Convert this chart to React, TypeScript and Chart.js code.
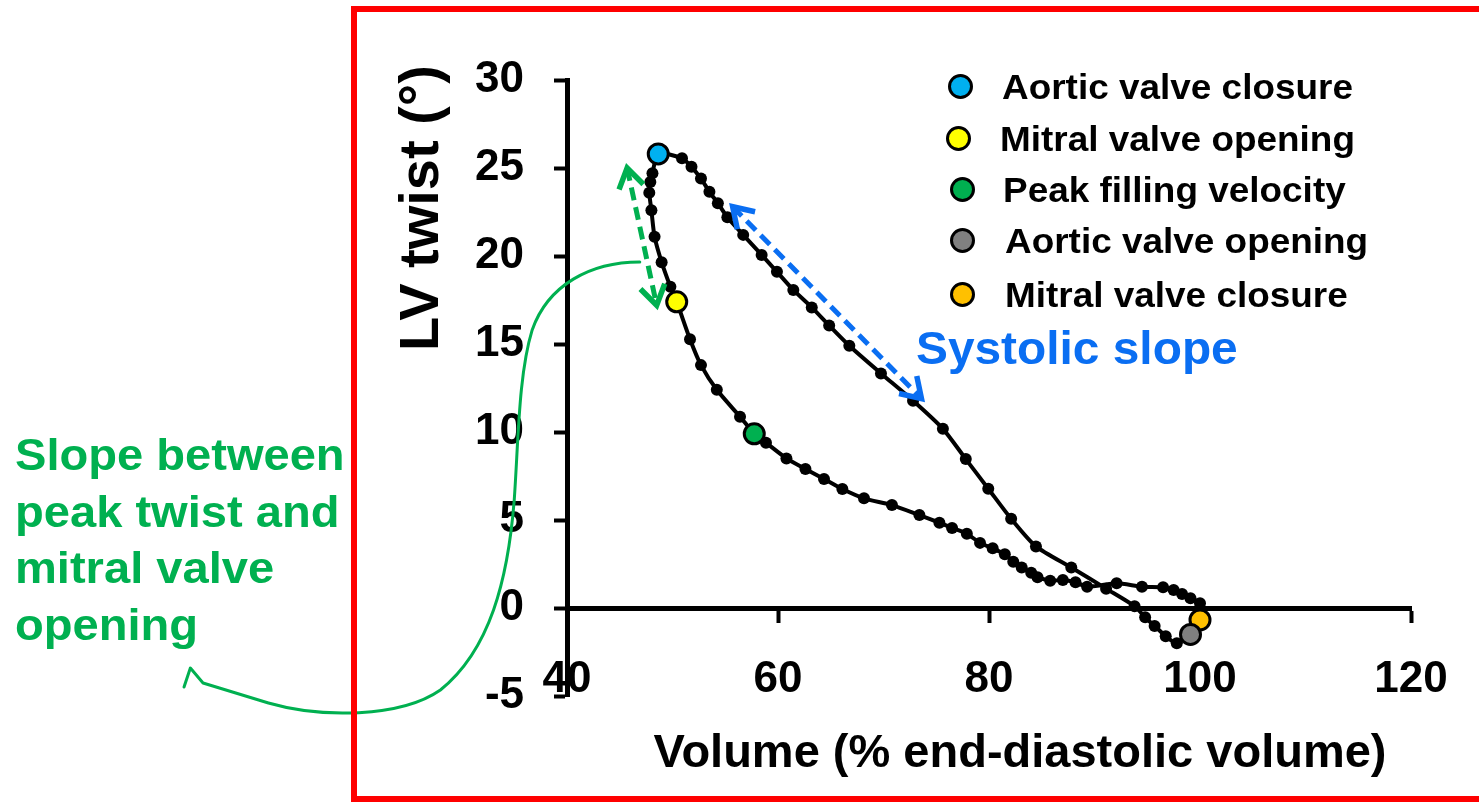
import React, { useEffect, useRef } from "react";
import { Chart, registerables } from "chart.js";

Chart.register(...registerables);

// ---------- data ----------
const loopVolume = [
  99.1, 97.8, 96.75, 95.7, 94.8, 93.8, 91.1, 87.8, 84.45, 82.1, 79.93, 77.8, 75.63, 72.8,
  69.76, 66.76, 64.85, 63.2, 61.45, 59.9, 58.45, 56.7, 55.2, 54.3, 53.5, 52.7, 51.8, 50.9,
  48.65, 48.1, 47.9, 47.8, 48.0, 48.3, 48.97, 49.8, 50.4, 51.66, 52.7, 54.2, 56.4, 57.75,
  58.86, 60.8, 62.6, 64.36, 66.1, 68.15, 70.8, 73.4, 75.3, 76.5, 77.9, 79.15, 80.35, 81.5,
  82.3, 83.1, 84.0, 84.6, 85.8, 87.0, 88.2, 89.3, 92.1, 94.5, 96.5, 97.5, 98.3, 99.1, 100.0,
  100.0,
];
const loopTwist = [
  -1.5, -2.0, -1.6, -1.02, -0.53, 0.1, 1.1, 2.3, 3.5, 5.07, 6.78, 8.46, 10.18, 11.78, 13.33,
  14.9, 16.05, 17.08, 18.07, 19.1, 20.06, 21.2, 22.2, 23.0, 23.65, 24.4, 25.07, 25.55, 25.8,
  24.7, 24.2, 23.6, 22.6, 21.1, 19.65, 18.25, 17.4, 15.27, 13.8, 12.4, 10.87, 9.9, 9.39, 8.5,
  7.9, 7.33, 6.76, 6.23, 5.85, 5.28, 4.85, 4.55, 4.22, 3.7, 3.39, 3.05, 2.63, 2.3, 2.0, 1.75,
  1.55, 1.59, 1.46, 1.21, 1.4, 1.21, 1.18, 1.02, 0.8, 0.55, 0.27, -0.68,
];

const eventNames = [
  "Aortic valve closure",
  "Mitral valve opening",
  "Peak filling velocity",
  "Aortic valve opening",
  "Mitral valve closure",
];
const eventColors = ["#00B0F0", "#FFFF00", "#00B050", "#808080", "#FFC000"];
const eventVolume = [48.65, 50.4, 57.75, 99.1, 100.0];
const eventTwist = [25.8, 17.4, 9.9, -1.5, -0.68];

const xTicks = [40, 60, 80, 100, 120];
const yTicks = [-5, 0, 5, 10, 15, 20, 25, 30];

const xTitle = "Volume (% end-diastolic volume)";
const yTitle = "LV twist (°)";
const systolicLabel = "Systolic slope";
const slopeLabelLines = ["Slope between", "peak twist and", "mitral valve", "opening"];

// annotation anchors (data units)
const systolicArrow = [[55.7, 22.8], [73.6, 11.9]];
const diastolicArrow = [[45.7, 25.0], [48.5, 17.2]];
const calloutCurve = [
  [46.9, 19.66],
  [42.2, 19.66], [38.2, 18.35], [36.7, 15.8],
  [35.4, 13.24], [35.4, 9.55], [35.0, 6.14],
  [34.4, 1.59], [32.7, -2.39], [28.0, -4.66],
  [24.2, -6.25], [16.6, -6.25], [11.7, -5.4],
];
const calloutTail = [[5.5, -4.26], [4.3, -3.41], [3.7, -4.49]];

// ---------- styles ----------
const FONT = '"Liberation Sans", Arial, Helvetica, sans-serif';
const GREEN = "#00B050";
const BLUE = "#0A6EF2";
const LEGEND_ROWS = [
  { cy: 86, cx: 960, tx: 1002 },
  { cy: 138, cx: 958, tx: 1000 },
  { cy: 189, cx: 962, tx: 1003 },
  { cy: 240, cx: 962, tx: 1005 },
  { cy: 294, cx: 962, tx: 1005 },
];

function arrowHead(ctx: CanvasRenderingContext2D, tip: number[], from: number[], size: number, ang: number) {
  const a = Math.atan2(tip[1] - from[1], tip[0] - from[0]);
  ctx.beginPath();
  ctx.moveTo(tip[0] - size * Math.cos(a - ang), tip[1] - size * Math.sin(a - ang));
  ctx.lineTo(tip[0], tip[1]);
  ctx.lineTo(tip[0] - size * Math.cos(a + ang), tip[1] - size * Math.sin(a + ang));
  ctx.stroke();
}

function dashedDoubleArrow(ctx: CanvasRenderingContext2D, a: number[], b: number[], color: string) {
  ctx.save();
  ctx.strokeStyle = color;
  ctx.lineWidth = 5;
  ctx.lineCap = "butt";
  ctx.setLineDash([13, 7]);
  ctx.beginPath();
  ctx.moveTo(a[0], a[1]);
  ctx.lineTo(b[0], b[1]);
  ctx.stroke();
  ctx.setLineDash([]);
  ctx.lineJoin = "miter";
  ctx.lineWidth = 5.5;
  arrowHead(ctx, b, a, 23, Math.PI / 5.5);
  arrowHead(ctx, a, b, 23, Math.PI / 5.5);
  ctx.restore();
}

const annotationPlugin = {
  id: "annotations",
  afterDatasetsDraw(chart: any) {
    const ctx: CanvasRenderingContext2D = chart.ctx;
    const xs = chart.scales.x;
    const ys = chart.scales.y;
    const P = (p: number[]) => [xs.getPixelForValue(p[0]), ys.getPixelForValue(p[1])];
    dashedDoubleArrow(ctx, P(systolicArrow[0]), P(systolicArrow[1]), BLUE);
    dashedDoubleArrow(ctx, P(diastolicArrow[0]), P(diastolicArrow[1]), GREEN);

    ctx.save();
    ctx.strokeStyle = GREEN;
    ctx.lineWidth = 3;
    ctx.lineJoin = "round";
    ctx.lineCap = "round";
    ctx.beginPath();
    const s = P(calloutCurve[0]);
    ctx.moveTo(s[0], s[1]);
    for (let i = 1; i + 2 < calloutCurve.length; i += 3) {
      const c1 = P(calloutCurve[i]);
      const c2 = P(calloutCurve[i + 1]);
      const e = P(calloutCurve[i + 2]);
      ctx.bezierCurveTo(c1[0], c1[1], c2[0], c2[1], e[0], e[1]);
    }
    calloutTail.forEach((p) => {
      const q = P(p);
      ctx.lineTo(q[0], q[1]);
    });
    ctx.stroke();
    ctx.restore();
  },
};

export default function App() {
  const canvasRef = useRef<HTMLCanvasElement | null>(null);

  useEffect(() => {
    const canvas = canvasRef.current;
    if (!canvas) return;
    const tickFont = { family: FONT, size: 44, weight: "bold" as const };

    const eventSets = eventNames.map((name, i) => ({
      label: name,
      data: [{ x: eventVolume[i], y: eventTwist[i] }],
      showLine: false,
      pointRadius: 10,
      pointHoverRadius: 10,
      pointBackgroundColor: eventColors[i],
      pointBorderColor: "#000000",
      pointBorderWidth: 3,
      order: i,
    }));

    const chart = new Chart(canvas, {
      type: "scatter",
      data: {
        datasets: [
          ...eventSets,
          {
            label: "LV twist loop",
            data: loopVolume.map((v, i) => ({ x: v, y: loopTwist[i] })),
            showLine: true,
            borderColor: "#000000",
            borderWidth: 4,
            tension: 0.25,
            pointRadius: 6,
            pointHoverRadius: 6,
            pointBackgroundColor: "#000000",
            pointBorderWidth: 0,
            order: 10,
          },
        ],
      },
      options: {
        responsive: false,
        animation: false,
        devicePixelRatio: 1,
        events: [],
        layout: { padding: { left: 380, right: 68, top: 80, bottom: 26 } },
        plugins: { legend: { display: false }, tooltip: { enabled: false } },
        scales: {
          x: {
            type: "linear",
            position: "bottom",
            min: 40,
            max: 120,
            afterBuildTicks: (s: any) => {
              s.ticks = xTicks.map((v) => ({ value: v }));
            },
            afterFit: (s: any) => {
              s.height = 80;
            },
            grid: { display: false, drawTicks: false },
            border: { display: false },
            ticks: {
              mirror: true,
              padding: -10,
              font: tickFont,
              color: "#000000",
              maxRotation: 0,
              autoSkip: false,
            },
          },
          x2: {
            type: "linear",
            axis: "x",
            position: { y: 0 },
            min: 40,
            max: 120,
            afterBuildTicks: (s: any) => {
              s.ticks = xTicks.map((v) => ({ value: v }));
            },
            grid: {
              display: true,
              drawOnChartArea: false,
              drawTicks: true,
              tickLength: 12,
              tickWidth: 4,
              tickColor: "#000000",
              color: "#000000",
            },
            border: { display: true, width: 5, color: "#000000" },
            ticks: { display: false },
          },
          y: {
            type: "linear",
            position: "left",
            min: -5,
            max: 30,
            afterBuildTicks: (s: any) => {
              s.ticks = yTicks.map((v) => ({ value: v }));
            },
            afterFit: (s: any) => {
              s.width = 187;
            },
            grid: {
              display: true,
              drawOnChartArea: false,
              drawTicks: true,
              tickLength: 13,
              tickWidth: 4,
              tickColor: "#000000",
              color: "#000000",
            },
            border: { display: true, width: 5, color: "#000000" },
            ticks: { padding: 30, font: tickFont, color: "#000000" },
          },
        },
      } as any,
      plugins: [annotationPlugin],
    });
    return () => chart.destroy();
  }, []);

  return (
    <div
      style={{
        position: "absolute",
        left: 0,
        top: 0,
        width: 1479,
        height: 802,
        overflow: "hidden",
        background: "#ffffff",
        fontFamily: FONT,
      }}
    >
      <canvas
        ref={canvasRef}
        width={1479}
        height={802}
        style={{ position: "absolute", left: 0, top: 0, width: 1479, height: 802 }}
      />
      {/* red frame */}
      <div
        style={{
          position: "absolute",
          left: 351,
          top: 6,
          width: 1300,
          height: 796,
          boxSizing: "border-box",
          border: "6px solid #FF0000",
          pointerEvents: "none",
        }}
      />
      {/* y axis title */}
      <div
        style={{
          position: "absolute",
          left: 419,
          top: 208,
          transform: "translate(-50%, -50%) rotate(-90deg)",
          font: `bold 56px ${FONT}`,
          lineHeight: 1,
          whiteSpace: "nowrap",
          color: "#000",
        }}
      >
        {yTitle}
      </div>
      {/* x axis title */}
      <div
        style={{
          position: "absolute",
          left: 1020,
          top: 750,
          transform: "translate(-50%, -50%)",
          font: `bold 47px ${FONT}`,
          lineHeight: 1,
          whiteSpace: "nowrap",
          color: "#000",
        }}
      >
        {xTitle}
      </div>
      {/* legend */}
      {eventNames.map((name, i) => {
        const row = LEGEND_ROWS[i];
        return (
          <React.Fragment key={name}>
            <div
              style={{
                position: "absolute",
                left: row.cx - 12.5,
                top: row.cy - 12.5,
                width: 19,
                height: 19,
                borderRadius: "50%",
                border: "3px solid #000",
                background: eventColors[i],
              }}
            />
            <div
              style={{
                position: "absolute",
                left: row.tx,
                top: row.cy,
                transform: "translateY(-50%) scaleX(1.055)",
                transformOrigin: "left center",
                font: `bold 35px ${FONT}`,
                lineHeight: 1,
                whiteSpace: "nowrap",
                color: "#000",
              }}
            >
              {name}
            </div>
          </React.Fragment>
        );
      })}
      {/* systolic slope label */}
      <div
        style={{
          position: "absolute",
          left: 916,
          top: 348,
          transform: "translateY(-50%) scaleX(1.04)",
          transformOrigin: "left center",
          font: `bold 46px ${FONT}`,
          lineHeight: 1,
          whiteSpace: "nowrap",
          color: BLUE,
        }}
      >
        {systolicLabel}
      </div>
      {/* green slope label */}
      <div
        style={{
          position: "absolute",
          left: 15,
          top: 427,
          transform: "scaleX(1.07)",
          transformOrigin: "left top",
          font: `bold 44px ${FONT}`,
          lineHeight: "56.7px",
          whiteSpace: "nowrap",
          color: GREEN,
        }}
      >
        {slopeLabelLines.map((l, i) => (
          <div key={i}>{l}</div>
        ))}
      </div>
    </div>
  );
}
